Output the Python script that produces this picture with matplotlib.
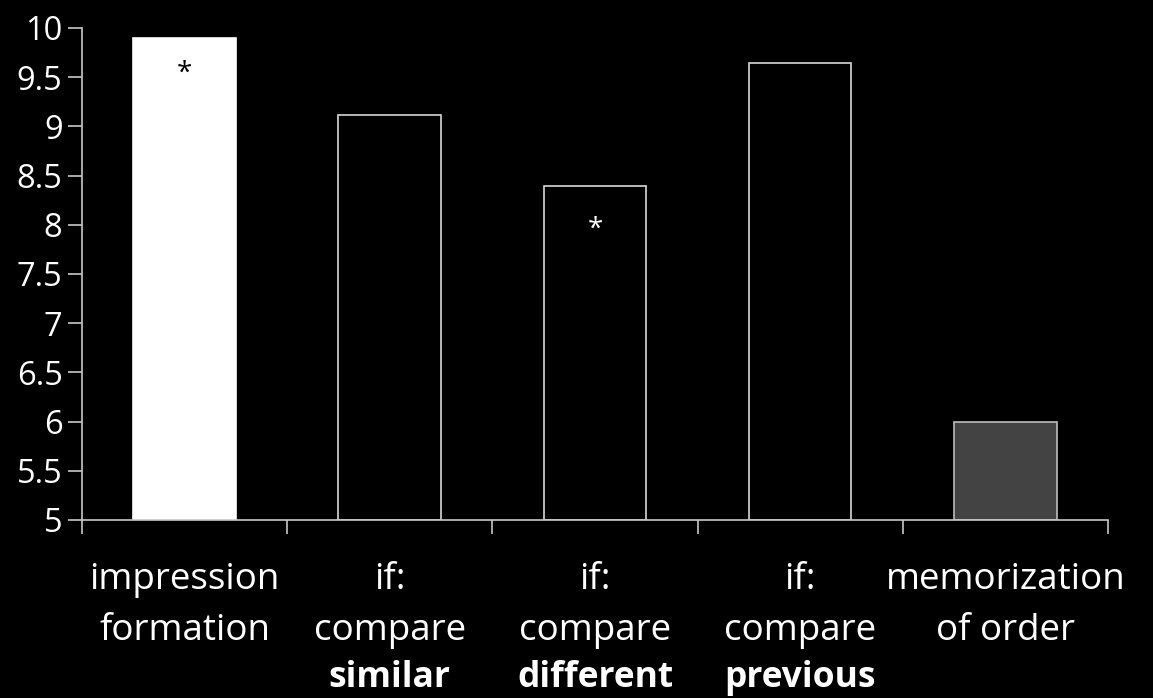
import matplotlib
matplotlib.use("Agg")
import matplotlib.pyplot as plt
from matplotlib.transforms import blended_transform_factory

categories_line1 = ["impression", "if:", "if:", "if:", "memorization"]
categories_line2 = ["formation", "compare", "compare", "compare", "of order"]
categories_bold = ["", "similar", "different", "previous", ""]
values = [9.90, 9.12, 8.39, 9.64, 6.00]
face_colors = ["#ffffff", "#000000", "#000000", "#000000", "#434343"]
edge_colors = ["#ffffff", "#d8d8d8", "#d8d8d8", "#d8d8d8", "#bdbdbd"]
star_flags = [True, False, True, False, False]
star_colors = ["#000000", "#ffffff", "#ffffff", "#ffffff", "#ffffff"]
star_values = [9.53, None, 7.95, None, None]
yticks = [5, 5.5, 6, 6.5, 7, 7.5, 8, 8.5, 9, 9.5, 10]
ytick_labels = ["5", "5.5", "6", "6.5", "7", "7.5", "8", "8.5", "9", "9.5", "10"]

plt.rcParams['font.family'] = ['Open Sans', 'DejaVu Sans']

fig = plt.figure(figsize=(11.53, 6.98), dpi=100, facecolor="black")
ax = fig.add_axes([82/1153, (698-520)/698, (1108-82)/1153, (520-28)/698])
ax.set_facecolor("black")

x = list(range(len(values)))
bottom = 5
ax.bar(x, [v - bottom for v in values], bottom=bottom, width=0.5,
       color=face_colors, edgecolor=edge_colors, linewidth=1.2, zorder=2)

for i, flag in enumerate(star_flags):
    if flag:
        ax.text(x[i], star_values[i], "*", ha="center", va="center",
                color=star_colors[i], fontsize=20, zorder=3)

ax.set_xlim(-0.5, len(values) - 0.5)
ax.set_ylim(5, 10)
ax.set_yticks(yticks)
ax.set_yticklabels(ytick_labels, fontsize=23.5, color="white")
ax.set_xticks([i - 0.5 for i in range(len(values) + 1)])
ax.set_xticklabels([])

for s in ["top", "right"]:
    ax.spines[s].set_visible(False)
for s in ["left", "bottom"]:
    ax.spines[s].set_color("#c8c8c8")
    ax.spines[s].set_linewidth(1.2)
ax.tick_params(axis="both", colors="#c8c8c8", length=10, width=1.2, direction="out")
ax.tick_params(axis="y", labelcolor="white", pad=4)

trans = blended_transform_factory(ax.transData, ax.transAxes)
for i in range(len(values)):
    ax.text(x[i], -0.140, categories_line1[i], transform=trans, ha="center", va="baseline",
            color="white", fontsize=26.5)
    ax.text(x[i], -0.244, categories_line2[i], transform=trans, ha="center", va="baseline",
            color="white", fontsize=26.5)
    if categories_bold[i]:
        ax.text(x[i], -0.339, categories_bold[i], transform=trans, ha="center", va="baseline",
                color="white", fontsize=25.5, fontweight="bold")

fig.savefig("out.png", dpi=100, facecolor="black")
